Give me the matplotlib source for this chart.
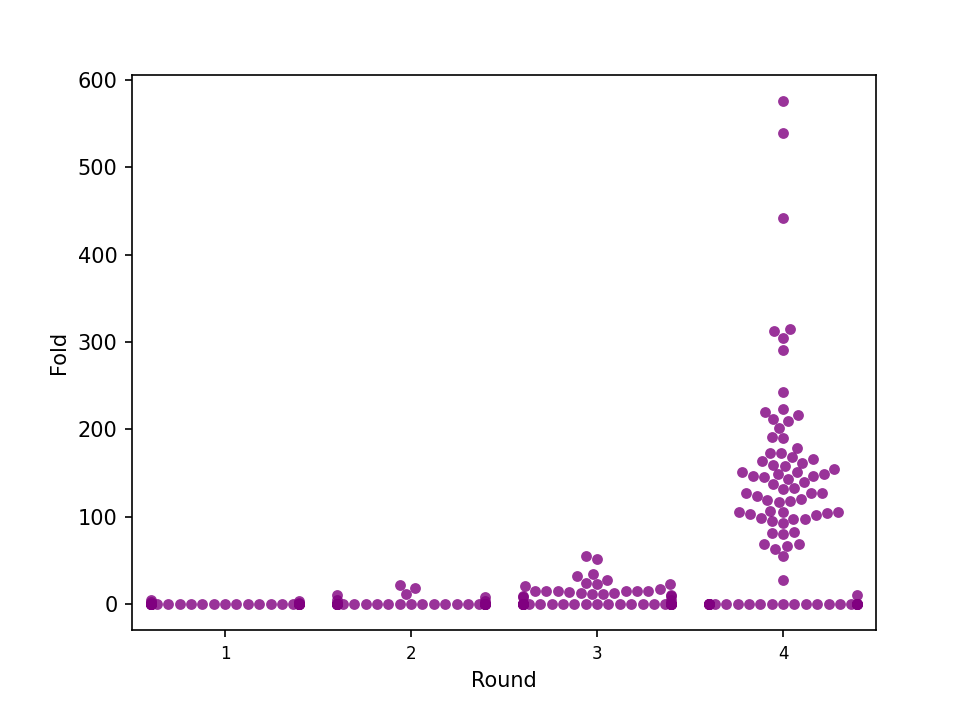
import matplotlib
matplotlib.use("Agg")
import matplotlib.pyplot as plt
import seaborn as sns
import pandas as pd
import warnings

warnings.filterwarnings("ignore")

rounds = ["1", "2", "3", "4"]

zeros_r1 = 30
zeros_r2 = 30
zeros_r3 = 30
zeros_r4 = 26

round1_nonzero = [5, 3, 2, 1]
round2_nonzero = [22, 18, 11, 10, 8, 5, 3]
round3_nonzero = [55, 51, 34, 32, 28, 24, 22.5, 22.5, 20.6, 17, 15, 15, 15, 13, 11,
                  10, 11, 13, 14, 15, 15, 15, 9, 9, 8, 5]
round4_nonzero = [576, 539, 442, 313, 315, 305, 291, 243,
                  220, 223, 216, 212, 210, 201.5, 191.6, 189.7,
                  179, 172.5, 173, 168, 166.4, 161.8, 159.5, 163.7, 158,
                  155, 148.5, 146.6, 150.8, 149, 147, 151, 145.4, 142.8,
                  139.7, 137.4, 132.5, 131.7, 126.7, 123.3, 126.7, 126.7,
                  118.3, 116.4, 119, 120.2,
                  106.9, 105.3, 103, 98.5, 103.8, 94.7, 92.4, 97.3, 97.7, 101.5, 105, 105.7,
                  81.7, 79.8, 82, 68.7, 63.3, 66.4, 68.7, 55, 27.5, 10]

values = {
    "1": [0] * zeros_r1 + round1_nonzero,
    "2": [0] * zeros_r2 + round2_nonzero,
    "3": [0] * zeros_r3 + round3_nonzero,
    "4": [0] * zeros_r4 + round4_nonzero,
}

rows = []
for r in rounds:
    for v in values[r]:
        rows.append({"Round": r, "Fold": v})
df = pd.DataFrame(rows)

fig = plt.figure(figsize=(6.4, 4.8), dpi=150)
ax = fig.add_axes([132 / 960, 90 / 720, 744 / 960, 555 / 720])
sns.swarmplot(data=df, x="Round", y="Fold", order=rounds, color="purple",
              alpha=0.8, size=5.2, ax=ax)
ax.set_ylim(-29.8, 605.7)
ax.tick_params(axis="x", labelsize=8)
ax.set_xlabel("Round")
ax.set_ylabel("Fold")
fig.savefig("out.png", dpi=150)
